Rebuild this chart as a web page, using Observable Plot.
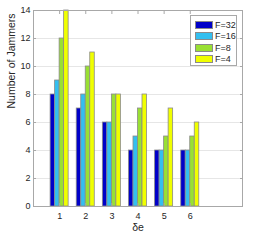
<!DOCTYPE html>
<html>
<head>
<meta charset="utf-8">
<script src="https://cdn.jsdelivr.net/npm/d3@7"></script>
<script src="https://cdn.jsdelivr.net/npm/@observablehq/plot@0.6"></script>
<style>
  html, body { margin: 0; padding: 0; background: #fff; }
  #wrap { position: relative; width: 262px; height: 241px; font-family: "Liberation Sans", Arial, sans-serif; }
  #legend { position: absolute; left: 190px; top: 15px; width: 47px; height: 51px; background: #fff; border: 1px solid #a8a8a8; box-sizing: border-box; }
  .row { position: absolute; left: 4px; height: 9px; display: flex; align-items: center; font-size: 9px; color: #262626; }
  .sw { width: 18px; height: 8px; border: 1px solid #8a8a8a; box-sizing: border-box; margin-right: 2px; }
</style>
</head>
<body>
<div id="wrap"></div>
<script>
const deltaE = [1, 2, 3, 4, 5, 6];
const seriesNames = ["F=32", "F=16", "F=8", "F=4"];
const f32 = [8, 7, 6, 4, 4, 4];
const f16 = [9, 8, 6, 5, 4, 4];
const f8 = [12, 10, 8, 7, 5, 5];
const f4 = [14, 11, 8, 8, 7, 6];
const colors = ["#0000c8", "#33bff0", "#99e033", "#f0ff00"];
const yTicks = [0, 2, 4, 6, 8, 10, 12, 14];

const seriesValues = [f32, f16, f8, f4];
const groupWidth = 0.69;
const barW = groupWidth / seriesNames.length;
const rows = [];
seriesValues.forEach((vals, i) => {
  vals.forEach((v, j) => {
    const x1 = deltaE[j] - groupWidth / 2 + i * barW;
    rows.push({series: seriesNames[i], de: deltaE[j], value: v, x1, x2: x1 + barW});
  });
});

const plot = Plot.plot({
  width: 262,
  height: 241,
  marginLeft: 33,
  marginRight: 20,
  marginTop: 10,
  marginBottom: 35,
  style: {fontFamily: "Liberation Sans, Arial, sans-serif", fontSize: "9px", color: "#262626", background: "#fff"},
  x: {domain: [0, 8]},
  y: {domain: [0, 14]},
  color: {domain: seriesNames, range: colors},
  marks: [
    Plot.gridY(yTicks, {stroke: "#e6e6e6", strokeOpacity: 1}),
    Plot.rectY(rows, {x1: "x1", x2: "x2", y1: 0, y2: "value", fill: "series", stroke: "#8a8a8a", strokeWidth: 0.8}),
    Plot.frame({stroke: "#a8a8a8"}),
    Plot.axisY(yTicks, {anchor: "left", tickSize: -3, tickPadding: 6, stroke: "#a8a8a8", fill: "#262626", label: null}),
    Plot.axisY(yTicks, {anchor: "right", tickSize: -3, text: null, stroke: "#a8a8a8", label: null}),
    Plot.axisX(deltaE, {anchor: "bottom", tickSize: -3, tickPadding: 9, stroke: "#a8a8a8", fill: "#262626", label: null}),
    Plot.axisX(deltaE, {anchor: "top", tickSize: -3, text: null, stroke: "#a8a8a8", label: null}),
    Plot.text(["Number of Jammers"], {frameAnchor: "left", dx: -22, rotate: -90, fontSize: 10.5, fill: "#262626"}),
    Plot.text(["δe"], {frameAnchor: "bottom", dy: 24, fontSize: 10.5, fill: "#262626"})
  ]
});

const wrap = document.getElementById("wrap");
wrap.appendChild(plot);
const legend = document.createElement("div");
legend.id = "legend";
seriesNames.forEach((name, i) => {
  const r = document.createElement("div");
  r.className = "row";
  r.style.top = (4 + i * 11.5) + "px";
  const sw = document.createElement("div");
  sw.className = "sw";
  sw.style.background = colors[i];
  const t = document.createElement("span");
  t.textContent = name;
  r.appendChild(sw);
  r.appendChild(t);
  legend.appendChild(r);
});
wrap.appendChild(legend);
</script>
</body>
</html>
